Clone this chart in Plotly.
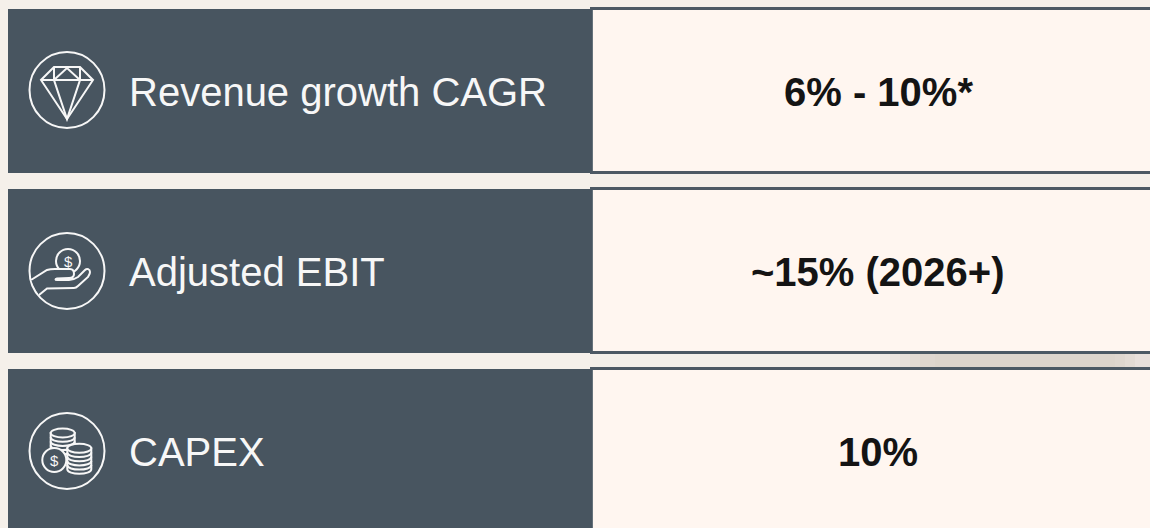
import plotly.graph_objects as go

# Content
metrics = ["Revenue growth CAGR", "Adjusted EBIT", "CAPEX"]
targets = ["6% - 10%*", "~15% (2026+)", "10%"]

# Colours
PAGE = "#F5F0EA"
DARK = "#485560"
CREAM = "#FFF6F0"
WHITE = "#F7F7F7"
FONT = "Liberation Sans"

# Row bands: top, bottom, text centre
row_top = [9, 189, 369]
row_bottom = [173, 353, 528]
row_mid = [91, 271, 451]

shapes = []


def rect(x0, y0, x1, y1, color):
    shapes.append(dict(type="rect", xref="x", yref="y", x0=x0, x1=x1, y0=y0, y1=y1,
                       fillcolor=color, line=dict(width=0), layer="above"))


def path(d, width=2, fill=None):
    s = dict(type="path", xref="x", yref="y", path=d, layer="above",
             line=dict(color=WHITE, width=width))
    if fill:
        s["fillcolor"] = fill
    shapes.append(s)


def ellipse(cx, cy, rx, ry, width=2, fill=None):
    s = dict(type="circle", xref="x", yref="y", x0=cx - rx, x1=cx + rx, y0=cy - ry, y1=cy + ry,
             line=dict(color=WHITE, width=width), layer="above")
    if fill:
        s["fillcolor"] = fill
    shapes.append(s)


# Soft shadow visible between the second and third rows
shadow = [(592, 850, "#F4F0EA"), (850, 870, "#F3EFEA"), (870, 880, "#F1EDE8"), (880, 890, "#EEE9E4"),
          (890, 900, "#EBE5DF"), (900, 910, "#E7E0DA"), (910, 920, "#E2DBD3"), (920, 935, "#DFD7CF"),
          (935, 1115, "#DDD5CC"), (1115, 1125, "#DFD7CF"), (1125, 1135, "#E3DBD4"), (1135, 1150, "#E8E0DB")]
for a, b, c in shadow:
    rect(a, 353, b, 368, c)

for i in range(3):
    top, bottom = row_top[i], row_bottom[i]
    rect(8, top, 592, bottom, DARK)
    rect(592, top - 1, 593, bottom, "#66727B")
    cream_bottom = bottom - 2 if i < 2 else bottom
    rect(593, top + 1, 1150, cream_bottom, CREAM)
    rect(590, top - 2, 1150, top + 1, "#4C5964")
    if i < 2:
        rect(590, bottom - 2, 1150, bottom + 1, "#4C5964")
    ellipse(67, row_mid[i] - 1 if i == 0 else row_mid[i], 37.5, 38)

# Diamond
path("M54,67 L80,67 L93,80 L67,119 L41,80 Z")
path("M41,80 L93,80")
path("M54,67 L54,80 L67,119 L80,80 L80,67")
path("M54,80 L67,68 L80,80")

# Hand holding a coin
ellipse(68, 261, 12, 12)
path("M31,280 L47,270 C50,269 52,269 55,269 L70,269 C73,269 74,271 74,274 C74,277 72,278 69,278 L57,278.5 "
     "C55,279 55,280 57,280 L69,280 C72,280 75,279 78,277 L85,270 C87,268 90,269 90,272 C90,274 89,275 88,277 "
     "L78,286 C77,287 76,288 74,288 L47,288.5 L39,295", fill=DARK)

# Coin stacks
for base_x, base_y, count in [(62.7, 433, 4), (79.3, 448.3, 5)]:
    rx, ry = 12, 4.5
    bottom_y = base_y + 4.2 * count
    path(f"M{base_x-rx},{base_y} L{base_x-rx},{bottom_y} C{base_x-rx},{bottom_y+2*ry/1.5} {base_x+rx},{bottom_y+2*ry/1.5} "
         f"{base_x+rx},{bottom_y} L{base_x+rx},{base_y} Z", fill=DARK)
    for k in range(1, count):
        y = base_y + 4.2 * k
        path(f"M{base_x-rx},{y} C{base_x-rx},{y+2*ry/1.5} {base_x+rx},{y+2*ry/1.5} {base_x+rx},{y}")
    ellipse(base_x, base_y, rx, ry, fill=DARK)
ellipse(54.3, 460, 12, 12, fill=DARK)

annotations = []
for i, label in enumerate(metrics):
    annotations.append(dict(x=127, y=row_mid[i] + 1, text=label, xanchor="left", yanchor="middle", showarrow=False,
                            font=dict(family=FONT, size=40, color=WHITE)))
    annotations.append(dict(x=878, y=row_mid[i] + 1, text=f"<b>{targets[i]}</b>", xanchor="center", yanchor="middle",
                            showarrow=False, font=dict(family=FONT, size=40, color="#141414")))
annotations.append(dict(x=68, y=261, text="$", showarrow=False, font=dict(family=FONT, size=15, color=WHITE)))
annotations.append(dict(x=54.5, y=460, text="$", showarrow=False, font=dict(family=FONT, size=15, color=WHITE)))

fig = go.Figure()
fig.update_layout(
    width=1150, height=528, margin=dict(l=0, r=0, t=0, b=0),
    paper_bgcolor=PAGE, plot_bgcolor=PAGE, showlegend=False,
    xaxis=dict(range=[0, 1150], visible=False, fixedrange=True),
    yaxis=dict(range=[528, 0], visible=False, fixedrange=True),
    shapes=shapes, annotations=annotations,
)
fig.write_html("out.html", config={"displayModeBar": False},
               post_script="document.body.style.margin='0';document.documentElement.style.overflow='hidden';")
